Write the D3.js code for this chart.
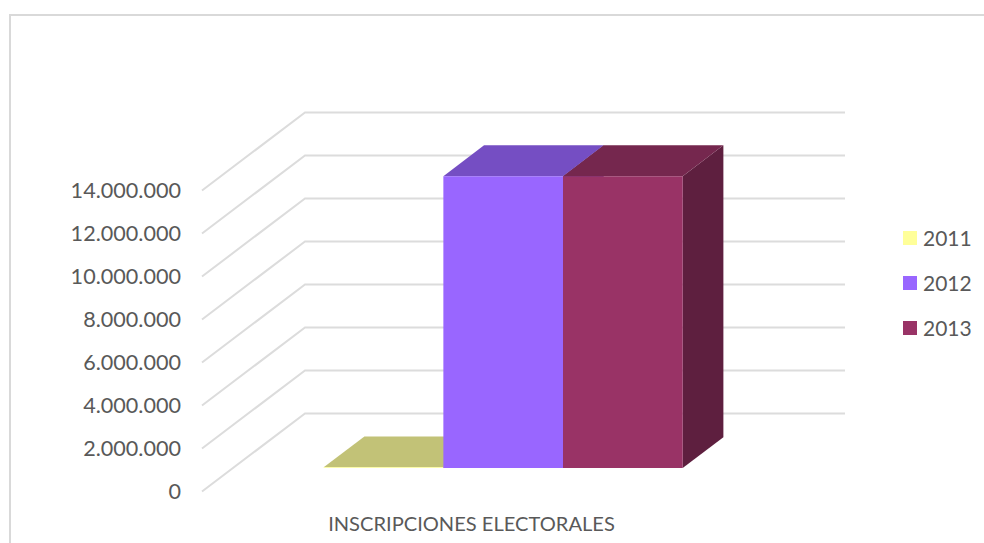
<!DOCTYPE html>
<html><head><meta charset="utf-8">
<script src="https://cdn.jsdelivr.net/npm/d3@7/dist/d3.min.js"></script>
<style>html,body{margin:0;padding:0;background:#fff;overflow:hidden}svg{display:block}text{font-family:Lato,"Open Sans",sans-serif;fill:#595959}</style>
</head><body><svg id="c" width="984" height="543"></svg>
<script>
const category = ["INSCRIPCIONES ELECTORALES"];
const years = ["2011","2012","2013"];
const inscripciones = [40000, 13580000, 13580000];
const tickValues = [0,2000000,4000000,6000000,8000000,10000000,12000000,14000000];
const frontColors = ["#FFFF99","#9966FF","#993366"];
const topColors = ["#C2C277","#754EC3","#75274E"];
const sideColors = ["#8F8F56","#5F3F9E","#5E1F3F"];

const svg = d3.select("#c");
const loc = d3.formatLocale({decimal:",",thousands:".",grouping:[3],currency:["",""]});
const fmt = loc.format(",.0f");

// oblique projection: depth d = 0 at the back wall, 1 at the front of the floor
const depthDX = -103, depthDY = 78;
const xBack = d3.scaleLinear().domain([0,1]).range([305,845]);
const y = d3.scaleLinear().domain([0,14000000]).range([413.5,112.5]);
const P = (xPx,v,d)=>[xPx + d*depthDX, y(v) + d*depthDY];
const poly = pts => "M"+pts.map(p=>p.join(",")).join("L")+"Z";

// frame
svg.append("path").attr("d","M10,543V15H984").attr("fill","none").attr("stroke","#d9d9d9").attr("stroke-width",2);

// grid
const grid = svg.append("g").attr("fill","none").attr("stroke","#dcdcdc").attr("stroke-width",2);
grid.selectAll("path").data(tickValues).join("path")
  .attr("d",v=>{const a=P(xBack(0),v,1),b=P(xBack(0),v,0),c=P(xBack(1),v,0);return d3.line()([a,b,c]);});

// axis
const yFront = d3.scaleLinear().domain(y.domain()).range(y.range().map(r=>r+depthDY));
const ax = svg.append("g").attr("transform","translate(188,0.5)")
  .call(d3.axisLeft(yFront).tickValues(tickValues).tickSize(0).tickPadding(7).tickFormat(fmt));
ax.select(".domain").remove();
ax.selectAll("text").attr("font-size",21.6).attr("fill","#595959").style("font-family","Lato,'Open Sans',sans-serif");

// bars
const dFront = 0.70, dBack = 0.305;
const band = d3.scaleBand().domain(years).range([323.7 - dFront*depthDX, 682.7 - dFront*depthDX]);
const bars = svg.append("g");
years.forEach((yr,i)=>{
  const v = inscripciones[i], x0 = band(yr), x1 = x0 + band.bandwidth();
  const g = bars.append("g");
  g.append("path").attr("fill",sideColors[i])
    .attr("d",poly([P(x1,0,dFront),P(x1,0,dBack),P(x1,v,dBack),P(x1,v,dFront)]));
  g.append("path").attr("fill",topColors[i])
    .attr("d",poly([P(x0,v,dFront),P(x0,v,dBack),P(x1,v,dBack),P(x1,v,dFront)]));
  g.append("path").attr("fill",frontColors[i])
    .attr("d",poly([P(x0,0,dFront),P(x1,0,dFront),P(x1,v,dFront),P(x0,v,dFront)]));
});

// category label
svg.append("text").attr("x",471.5).attr("y",531).attr("text-anchor","middle").attr("font-size",20.1).text(category[0]);

// legend
const ly = d3.scalePoint().domain(years).range([238,328]);
const leg = svg.append("g").selectAll("g").data(years).join("g").attr("transform",d=>`translate(903,${ly(d)})`);
leg.append("rect").attr("x",0).attr("y",-7).attr("width",14).attr("height",14).attr("fill",(d,i)=>frontColors[i]);
leg.append("text").attr("x",20).attr("y",8).attr("font-size",21).text(d=>d);
</script></body></html>
